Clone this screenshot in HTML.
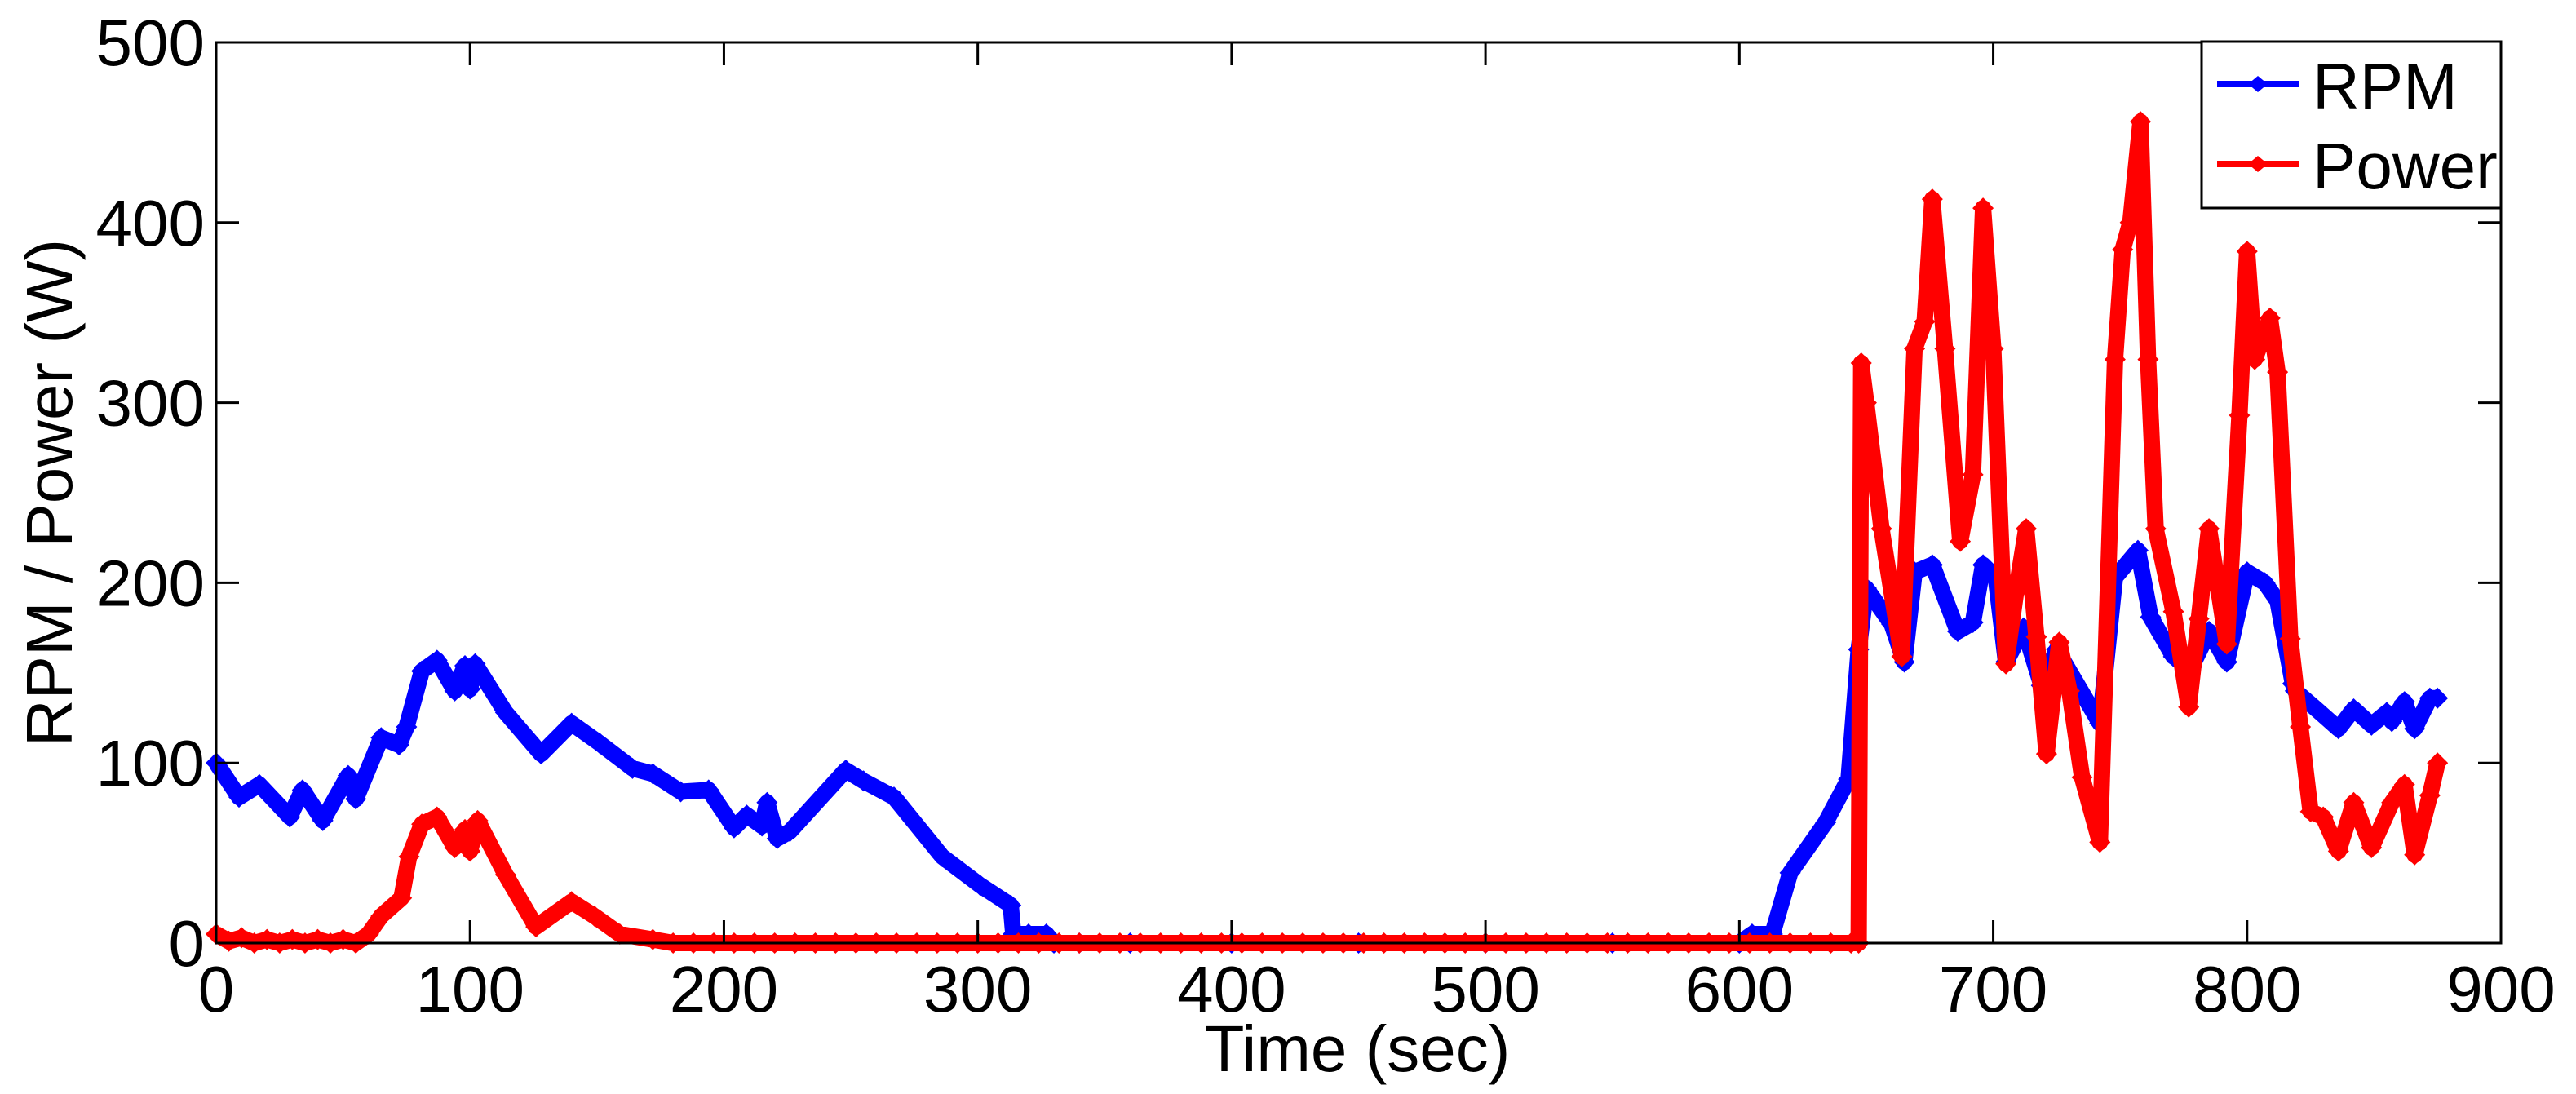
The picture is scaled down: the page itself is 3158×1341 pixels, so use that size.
<!DOCTYPE html>
<html><head><meta charset="utf-8"><style>
html,body{margin:0;padding:0;background:#fff;}
svg{display:block;font-family:"Liberation Sans",sans-serif;}
</style></head><body>
<svg id="chart" width="3158" height="1341" viewBox="0 0 3158 1341">
<rect x="0" y="0" width="3158" height="1341" fill="#fff"/>
<g id="series"></g>
<g id="axes"></g>
</svg>
<script>
const xTicks=[0,100,200,300,400,500,600,700,800,900];
const yTicks=[0,100,200,300,400,500];
const rpmT=[0,9,17,29,34,42,52,55,65,72,75,81,87,94,98,100,102,114,128,140,151,164,172,183,194,204,209,215,217,221,226,248,255,267,286,301,313,314,320,327,330,340,360,400,450,500,550,600,605,613,620,634,643,647,650,660,665,669,676,686,692,696,701,705,712,719,725,742,748,757,762,771,778,785,792,800,807,812,818,819,828,836,842,849,855,857,862,866,872,875];
const rpmV=[100,81,88,70,85,68,93,80,114,110,120,151,157,140,154,141,155,128,105,122,111,97,94,84,85,64,71,65,78,58,62,96,90,81,48,32,21,5,5,5,0,0,0,0,0,0,0,0,5,5,39,67,91,163,197,177,156,206,210,173,178,210,203,156,175,143,163,122,203,218,181,159,153,173,156,206,200,190,144,140,129,119,130,121,128,123,134,119,136,136];
const powT=[0,5,10,15,20,25,30,35,40,45,50,55,60,65,73,76,81,87,94,98,100,103,114,126,140,149,159,172,180,188,196,204,212,220,228,236,244,252,260,268,276,284,292,300,308,316,324,332,340,348,356,364,372,380,388,396,404,412,420,428,436,444,452,460,468,476,484,492,500,508,516,524,532,540,548,556,564,572,580,588,596,604,612,620,628,636,644,647,648,650,656,664,669,673,676,681,687,692,696,700,705,709,713,717,721,726,730,735,742,748,751,754,758,761,764,771,777,781,785,792,797,800,803,809,812,817,821,825,830,836,842,849,857,862,866,872,875];
const powV=[5,1,3,0,2,0,2,0,2,0,2,0,5,15,25,48,66,70,53,63,51,68,38,9,23,15,5,2,0,0,0,0,0,0,0,0,0,0,0,0,0,0,0,0,0,0,0,0,0,0,0,0,0,0,0,0,0,0,0,0,0,0,0,0,0,0,0,0,0,0,0,0,0,0,0,0,0,0,0,0,0,0,0,0,0,0,0,0,322,300,230,159,330,345,413,330,223,260,408,330,155,195,230,170,105,167,140,92,56,324,385,400,456,324,230,184,131,180,230,166,293,384,324,347,317,169,120,73,70,51,78,53,78,88,49,82,100];

const L=265,R=3066,T=52,B=1156;
const xs=t=>L+(t/900)*(R-L);
const ys=v=>B-(v/500)*(B-T);
const NS='http://www.w3.org/2000/svg';
function mk(tag,attrs,parent){const e=document.createElementNS(NS,tag);for(const k in attrs)e.setAttribute(k,attrs[k]);parent.appendChild(e);return e;}
const ser=document.getElementById('series');
const ax=document.getElementById('axes');

function drawSeries(tArr,vArr,color,name,sw){
  const g=mk('g',{},ser);
  
  
  const pts=tArr.map((t,i)=>xs(t).toFixed(1)+','+ys(vArr[i]).toFixed(1)).join(' ');
  const pl=mk('polyline',{points:pts,fill:'none',stroke:color,'stroke-width':sw,'stroke-linejoin':'round'},g);
  
  
  tArr.forEach((t,i)=>{
    const x=xs(t),y=ys(vArr[i]);
    const d=mk('polygon',{points:`${x-13},${y} ${x},${y-13} ${x+13},${y} ${x},${y+13}`,fill:color},g);
    
    
  });
}
drawSeries(rpmT,rpmV,'#0000ff','rpm',20);
drawSeries(powT,powV,'#ff0000','power',20);

const box=mk('rect',{x:L,y:T,width:R-L,height:B-T,fill:'none',stroke:'#000','stroke-width':3},ax);


xTicks.forEach(t=>{
  const x=xs(t);
  mk('line',{x1:x,y1:B,x2:x,y2:B-28,stroke:'#000','stroke-width':3},ax);
  mk('line',{x1:x,y1:T,x2:x,y2:T+28,stroke:'#000','stroke-width':3},ax);
  const tx=mk('text',{x:x,y:1240,'font-size':80,'text-anchor':'middle',fill:'#000'},ax);
  tx.textContent=t;
  
  
});
yTicks.forEach(v=>{
  const y=ys(v);
  mk('line',{x1:L,y1:y,x2:L+28,y2:y,stroke:'#000','stroke-width':3},ax);
  mk('line',{x1:R,y1:y,x2:R-28,y2:y,stroke:'#000','stroke-width':3},ax);
  const tx=mk('text',{x:251,y:y+28,'font-size':80,'text-anchor':'end',fill:'#000'},ax);
  tx.textContent=v;
  
  
});
const xt=mk('text',{x:1664,y:1313,'font-size':80,'text-anchor':'middle',fill:'#000'},ax);
xt.textContent='Time (sec)';


const yt=mk('text',{x:0,y:0,'font-size':80,'text-anchor':'middle',fill:'#000',transform:'translate(88,604) rotate(-90)'},ax);
yt.textContent='RPM / Power (W)';



const lg=mk('g',{},ax);


mk('rect',{x:2699,y:51,width:367,height:204,fill:'#fff',stroke:'#000','stroke-width':3},lg);
[['RPM','#0000ff',103],['Power','#ff0000',201]].forEach(([lab,c,y])=>{
  const e=mk('g',{},lg);
  
  
  mk('line',{x1:2718,y1:y,x2:2818,y2:y,stroke:c,'stroke-width':8},e);
  mk('polygon',{points:`2756,${y} 2768,${y-10} 2780,${y} 2768,${y+10}`,fill:c},e);
  const tx=mk('text',{x:2835,y:y+30,'font-size':80,fill:'#000'},e);
  tx.textContent=lab;
});
</script>
</body></html>
